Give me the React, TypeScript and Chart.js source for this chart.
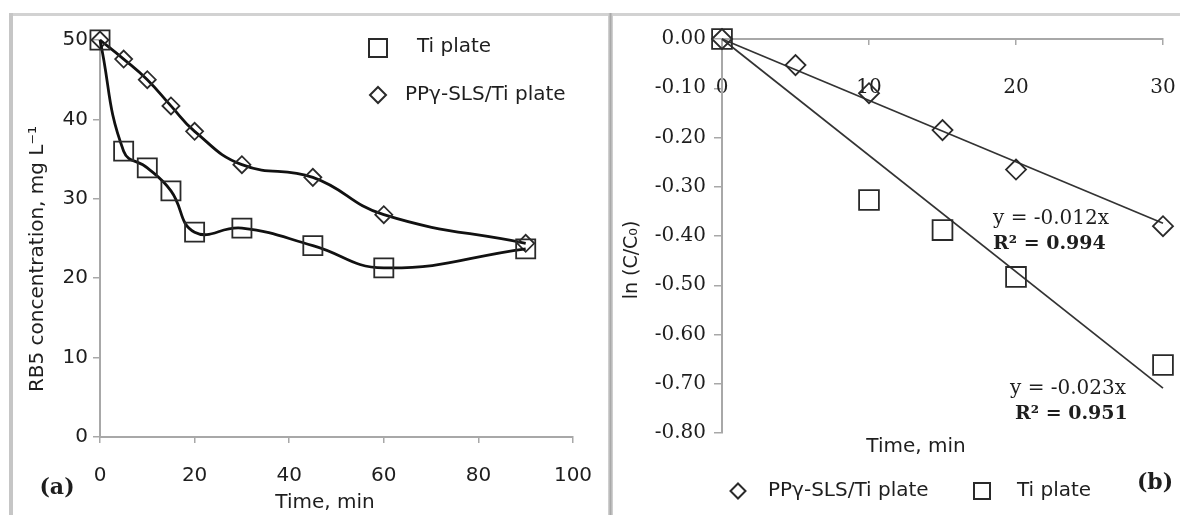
import React, { useEffect, useRef } from "react";
import { Chart, registerables } from "chart.js";

Chart.register(...registerables);

// ---------- Panel (a): RB5 concentration vs time ----------
const timeA = [0, 5, 10, 15, 20, 30, 45, 60, 90];
const tiPlateA = [50, 36.0, 33.9, 31.0, 25.8, 26.3, 24.1, 21.3, 23.7];
const ppyA = [50, 47.6, 45.0, 41.7, 38.5, 34.3, 32.7, 28.0, 24.4];
const xTicksA = [0, 20, 40, 60, 80, 100];
const yTicksA = [0, 10, 20, 30, 40, 50];

// ---------- Panel (b): ln(C/C0) vs time ----------
const timeBPpy = [0, 5, 10, 15, 20, 30];
const ppyB = [0, -0.053, -0.110, -0.185, -0.265, -0.380];
const timeBTi = [0, 10, 15, 20, 30];
const tiPlateB = [0, -0.327, -0.388, -0.483, -0.662];
const trendX = [0, 30];
const ppyTrend = [0, -0.374];
const tiTrend = [0, -0.709];
const xTicksB = [0, 10, 20, 30];
const yTicksB = [0, -0.1, -0.2, -0.3, -0.4, -0.5, -0.6, -0.7, -0.8];

const TEXT = "#1e1e1e";
const AXIS = "#a8a8a8";
const MARK = "#2a2a2a";

type TextItem = { text: string; x: number; y: number; font: string; align?: CanvasTextAlign; rotate?: boolean };
type Marker = { kind: "rect" | "diamond"; x: number; y: number; size: number };

function makeOverlay(id: string, offsetX: number, texts: TextItem[], markers: Marker[]) {
  return {
    id,
    afterDraw(chart: any) {
      const ctx: CanvasRenderingContext2D = chart.ctx;
      ctx.save();
      ctx.fillStyle = TEXT;
      ctx.textBaseline = "middle";
      for (const t of texts) {
        ctx.save();
        ctx.font = t.font;
        ctx.textAlign = t.align ?? "left";
        ctx.translate(t.x - offsetX, t.y);
        if (t.rotate) ctx.rotate(-Math.PI / 2);
        ctx.fillText(t.text, 0, 0);
        ctx.restore();
      }
      ctx.strokeStyle = MARK;
      ctx.lineWidth = 2;
      for (const m of markers) {
        const cx = m.x - offsetX;
        const h = m.size / 2;
        ctx.beginPath();
        if (m.kind === "rect") {
          ctx.rect(cx - h, m.y - h, m.size, m.size);
        } else {
          ctx.moveTo(cx, m.y - h);
          ctx.lineTo(cx + h, m.y);
          ctx.lineTo(cx, m.y + h);
          ctx.lineTo(cx - h, m.y);
          ctx.closePath();
        }
        ctx.stroke();
      }
      ctx.restore();
    },
  };
}

const toXY = (xs: number[], ys: number[]) => xs.map((x, i) => ({ x, y: ys[i] }));

export default function App() {
  const refA = useRef<HTMLCanvasElement>(null);
  const refB = useRef<HTMLCanvasElement>(null);

  useEffect(() => {
    const sans = "'DejaVu Sans'";
    const serif = "'DejaVu Serif'";

    const overlayA = makeOverlay(
      "overlayA",
      0,
      [
        { text: "RB5 concentration, mg L⁻¹", x: 38, y: 259, font: `20px ${sans}`, align: "center", rotate: true },
        { text: "Time, min", x: 325, y: 503, font: `20px ${sans}`, align: "center" },
        { text: "(a)", x: 57, y: 488, font: `bold 22px ${serif}`, align: "center" },
        { text: "Ti plate", x: 417, y: 47, font: `20px ${sans}` },
        { text: "PPγ-SLS/Ti plate", x: 405, y: 95, font: `20px ${sans}` },
      ],
      [
        { kind: "rect", x: 378, y: 48, size: 18 },
        { kind: "diamond", x: 378, y: 95, size: 16 },
      ]
    );

    const chartA = new Chart(refA.current!, {
      type: "line",
      data: {
        datasets: [
          {
            label: "Ti plate",
            data: toXY(timeA, tiPlateA),
            borderColor: "#111",
            borderWidth: 2.8,
            tension: 0.45,
            pointStyle: "rect",
            pointRadius: 13.5,
            pointBorderColor: MARK,
            pointBorderWidth: 1.8,
            pointBackgroundColor: "rgba(0,0,0,0)",
            clip: false,
          },
          {
            label: "PPγ-SLS/Ti plate",
            data: toXY(timeA, ppyA),
            borderColor: "#111",
            borderWidth: 2.8,
            tension: 0.45,
            pointStyle: "rectRot",
            pointRadius: 8.5,
            pointBorderColor: MARK,
            pointBorderWidth: 1.8,
            pointBackgroundColor: "rgba(0,0,0,0)",
            clip: false,
          },
        ],
      },
      options: {
        responsive: false,
        animation: false,
        events: [],
        layout: { padding: { left: 0, top: 40, right: 35, bottom: 0 } },
        plugins: { legend: { display: false }, tooltip: { enabled: false } },
        scales: {
          x: {
            type: "linear",
            min: 0,
            max: 100,
            afterFit: (s: any) => { s.height = 78; },
            afterBuildTicks: (s: any) => { s.ticks = xTicksA.map((v) => ({ value: v })); },
            ticks: { font: { family: sans, size: 20, lineHeight: 3.0 }, color: TEXT, padding: 3 },
            grid: { drawOnChartArea: false, drawTicks: true, tickLength: 6, color: AXIS, lineWidth: 1.5 },
            border: { color: AXIS, width: 2 },
          },
          y: {
            type: "linear",
            min: 0,
            max: 50,
            afterFit: (s: any) => { s.width = 100; },
            afterBuildTicks: (s: any) => { s.ticks = yTicksA.map((v) => ({ value: v })); },
            ticks: { font: { family: sans, size: 20 }, color: TEXT, padding: 5 },
            grid: { drawOnChartArea: false, drawTicks: true, tickLength: 7, color: AXIS, lineWidth: 1.5 },
            border: { color: AXIS, width: 2 },
          },
        },
      },
      plugins: [overlayA],
    } as any);

    const offB = 613;
    const overlayB = makeOverlay(
      "overlayB",
      offB,
      [
        { text: "ln (C/C₀)", x: 632, y: 260, font: `19px ${sans}`, align: "center", rotate: true },
        { text: "Time, min", x: 916, y: 447, font: `20px ${sans}`, align: "center" },
        { text: "y = -0.012x", x: 993, y: 219, font: `20px ${serif}` },
        { text: "R² = 0.994", x: 993, y: 244, font: `bold 19px ${serif}` },
        { text: "y = -0.023x", x: 1010, y: 389, font: `20px ${serif}` },
        { text: "R² = 0.951", x: 1015, y: 414, font: `bold 19px ${serif}` },
        { text: "PPγ-SLS/Ti plate", x: 768, y: 491, font: `20px ${sans}` },
        { text: "Ti plate", x: 1017, y: 491, font: `20px ${sans}` },
        { text: "(b)", x: 1155, y: 483, font: `bold 22px ${serif}`, align: "center" },
      ],
      [
        { kind: "diamond", x: 738, y: 491, size: 15 },
        { kind: "rect", x: 982, y: 491, size: 16 },
      ]
    );

    const chartB = new Chart(refB.current!, {
      type: "scatter",
      data: {
        datasets: [
          {
            label: "PPγ-SLS/Ti plate",
            data: toXY(timeBPpy, ppyB),
            showLine: false,
            pointStyle: "rectRot",
            pointRadius: 10,
            pointBorderColor: MARK,
            pointBorderWidth: 1.8,
            pointBackgroundColor: "rgba(0,0,0,0)",
            clip: false,
          },
          {
            label: "Ti plate",
            data: toXY(timeBTi, tiPlateB),
            showLine: false,
            pointStyle: "rect",
            pointRadius: 14,
            pointBorderColor: MARK,
            pointBorderWidth: 1.8,
            pointBackgroundColor: "rgba(0,0,0,0)",
            clip: false,
          },
          {
            label: "Linear (PPγ-SLS/Ti plate)",
            data: toXY(trendX, ppyTrend),
            showLine: true,
            borderColor: "#333",
            borderWidth: 1.7,
            pointRadius: 0,
            clip: false,
          },
          {
            label: "Linear (Ti plate)",
            data: toXY(trendX, tiTrend),
            showLine: true,
            borderColor: "#333",
            borderWidth: 1.7,
            pointRadius: 0,
            clip: false,
          },
        ],
      },
      options: {
        responsive: false,
        animation: false,
        events: [],
        layout: { padding: { left: 0, top: 39, right: 17, bottom: 82 } },
        plugins: { legend: { display: false }, tooltip: { enabled: false } },
        scales: {
          x: {
            type: "linear",
            min: 0,
            max: 30,
            position: { y: 0 },
            afterBuildTicks: (s: any) => { s.ticks = xTicksB.map((v) => ({ value: v })); },
            ticks: { font: { family: serif, size: 20, lineHeight: 4.1 }, color: TEXT, padding: 3 },
            grid: { drawOnChartArea: false, drawTicks: true, tickLength: 5, color: AXIS, lineWidth: 1.5 },
            border: { color: AXIS, width: 2 },
          },
          y: {
            type: "linear",
            min: -0.8,
            max: 0,
            afterFit: (s: any) => { s.width = 109; },
            afterBuildTicks: (s: any) => { s.ticks = yTicksB.map((v) => ({ value: v })); },
            ticks: {
              font: { family: serif, size: 20 },
              color: TEXT,
              padding: 8,
              callback: (v: any) => Number(v).toFixed(2),
            },
            grid: { drawOnChartArea: false, drawTicks: true, tickLength: 8, color: AXIS, lineWidth: 1.5 },
            border: { color: AXIS, width: 2 },
          },
        },
      },
      plugins: [overlayB],
    } as any);

    return () => {
      chartA.destroy();
      chartB.destroy();
    };
  }, []);

  return (
    <div style={{ position: "absolute", left: 0, top: 0, width: 1180, height: 515, background: "#fff", overflow: "hidden" }}>
      <canvas ref={refA} width={608} height={515} style={{ position: "absolute", left: 0, top: 0 }} />
      <canvas ref={refB} width={567} height={515} style={{ position: "absolute", left: 613, top: 0 }} />
      <div style={{ position: "absolute", left: 9, top: 13, width: 1171, height: 3, background: "#d2d2d2" }} />
      <div style={{ position: "absolute", left: 9, top: 13, width: 4, height: 502, background: "#c6c6c6" }} />
      <div style={{ position: "absolute", left: 608, top: 13, width: 5, height: 502, background: "linear-gradient(to right, #d8d8d8, #a9a9a9, #d8d8d8)" }} />
    </div>
  );
}
